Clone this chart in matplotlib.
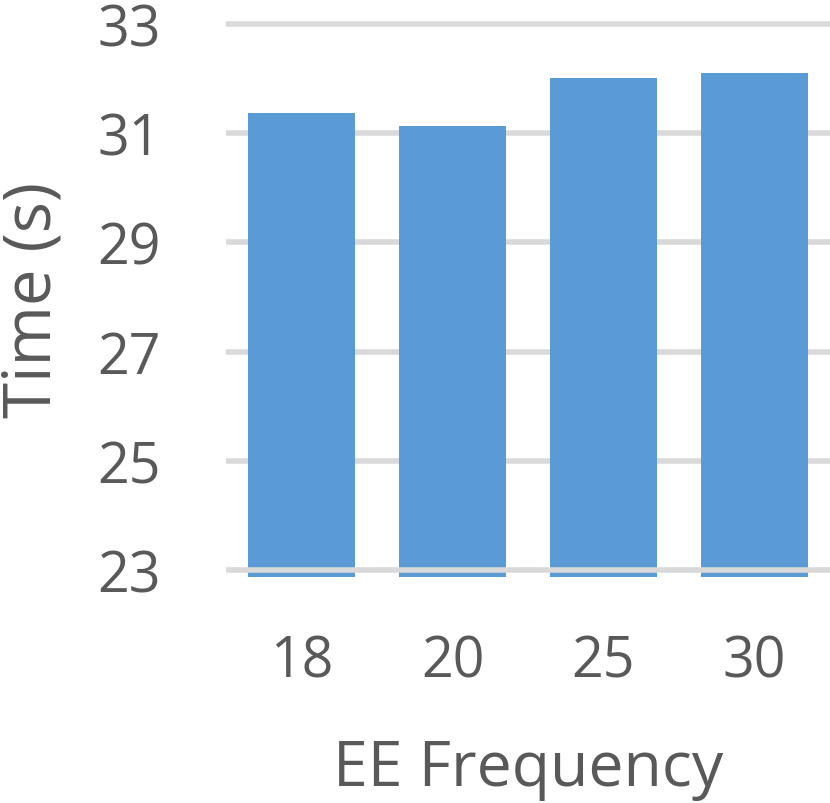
import numpy as np
import matplotlib
matplotlib.use("Agg")
import matplotlib.pyplot as plt

# datos
frequencies = ["18", "20", "25", "30"]
times = [31.37, 31.13, 32.02, 32.10]
y_ticks = [23, 25, 27, 29, 31, 33]

plt.rcParams['font.family'] = ['Open Sans', 'DejaVu Sans']

bar_color = '#5B9BD5'
grid_color = '#D9D9D9'
text_color = '#595959'

fig = plt.figure(figsize=(8.3, 8.04), dpi=100)
ax = fig.add_axes([226 / 830, 1 - 577.5 / 804, 604 / 830, (577.5 - 22.3) / 804])

base = 22.88
x = np.arange(len(frequencies))
ax.bar(x, np.array(times) - base, bottom=base, width=0.71, color=bar_color, zorder=2)

# lineas de la cuadricula
for t in y_ticks:
    ax.axhline(t, color=grid_color, linewidth=4, zorder=3 if t == y_ticks[0] else 1)

ax.set_xlim(-0.5, 3.5)
ax.set_ylim(base, 33.05)
ax.set_xticks(x)
ax.set_xticklabels(frequencies)
ax.set_yticks(y_ticks)
ax.tick_params(axis='both', length=0, labelsize=40, labelcolor=text_color)
ax.tick_params(axis='y', pad=47)
ax.tick_params(axis='x', pad=41)

for s in ax.spines.values():
    s.set_visible(False)

ax.set_xlabel('EE Frequency', fontsize=45, color=text_color, labelpad=34)
ax.set_ylabel('Time (s)', fontsize=47, color=text_color, labelpad=22)

fig.savefig('out.png', dpi=100)
